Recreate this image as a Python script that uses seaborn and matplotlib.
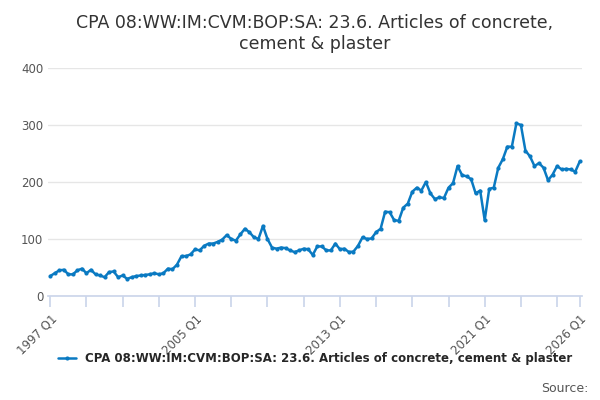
"""
Quarterly index chart: CPA 08 articles of concrete, cement & plaster.
"""

import numpy as np
import pandas as pd
import matplotlib
matplotlib.use("Agg")
import matplotlib.pyplot as plt
import seaborn as sns

sns.set_theme(style="white")
plt.rcParams["font.family"] = ["DejaVu Sans"]

# ── Data ──────────────────────────────────────────────────────────────────────
values = [
    35, 40, 45, 46, 38, 38, 45, 48, 40, 46, 38, 36, 33, 42, 43, 33,
    36, 30, 33, 35, 36, 37, 38, 40, 38, 40, 48, 47, 55, 70, 70, 73,
    82, 80, 88, 92, 92, 95, 99, 107, 100, 97, 108, 118, 112, 103, 100, 123,
    100, 85, 83, 85, 84, 80, 77, 80, 83, 82, 72, 87, 87, 80, 80, 92,
    82, 83, 77, 78, 88, 103, 100, 101, 112, 118, 148, 147, 133, 132, 155, 162,
    183, 190, 185, 200, 180, 170, 173, 172, 190, 198, 228, 212, 210, 205, 180, 185,
    133, 188, 190, 225, 240, 262, 262, 303, 300, 255, 245, 228, 233, 225, 203, 213,
    228, 222, 223, 222, 218, 236,
]
df = pd.DataFrame({"idx": np.arange(len(values)), "value": values})
colour = "#0a7ac2"

fig, ax = plt.subplots(figsize=(6, 4), dpi=100)
sns.lineplot(data=df, x="idx", y="value", ax=ax, color=colour, linewidth=1.8,
             marker="o", markersize=3, markeredgewidth=0,
             label="CPA 08:WW:IM:CVM:BOP:SA: 23.6. Articles of concrete, cement & plaster")

ax.set_title("CPA 08:WW:IM:CVM:BOP:SA: 23.6. Articles of concrete,\ncement & plaster",
             fontsize=12.5, color="#333333", pad=14)
ax.set_ylim(0, 400)
ax.set_yticks([0, 100, 200, 300, 400])
ax.set_xlim(-0.5, len(values) - 0.5)
ticks = list(range(0, len(values), 8)) + [len(values) - 1]
labels = {0: "1997 Q1", 32: "2005 Q1", 64: "2013 Q1", 96: "2021 Q1", len(values) - 1: "2026 Q1"}
ax.set_xticks(ticks)
ax.set_xticklabels([labels.get(t, "") for t in ticks], rotation=45, ha="right",
                   rotation_mode="anchor", fontsize=8.5, color="#555555")
ax.tick_params(axis="y", labelsize=8.5, colors="#555555", length=0)
ax.tick_params(axis="x", length=8, color="#ccd6eb", bottom=True)
ax.grid(axis="y", color="#e6e6e6")
ax.set_xlabel("")
ax.set_ylabel("")
sns.despine(ax=ax, left=True, top=True, right=True)
ax.spines["bottom"].set_color("#ccd6eb")
ax.legend(loc="upper center", bbox_to_anchor=(0.5, -0.2), frameon=False,
          prop={"size": 8.5, "weight": "bold"}, handlelength=1.5)
fig.text(0.98, 0.02, "Source:", ha="right", fontsize=9, color="#555555")

plt.subplots_adjust(left=0.08, right=0.97, top=0.83, bottom=0.26)
fig.savefig("out.png", dpi=100)
plt.close(fig)
